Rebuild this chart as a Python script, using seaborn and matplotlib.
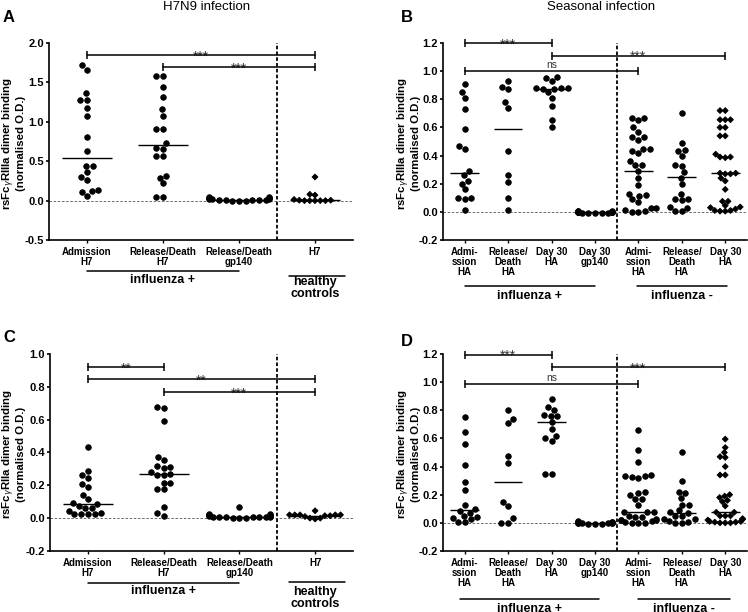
import numpy as np
import pandas as pd
import matplotlib
matplotlib.use("Agg")
import matplotlib.pyplot as plt
import seaborn as sns
from matplotlib.markers import MarkerStyle

# ---------------- data ----------------
H7_LABELS = ["Admission\nH7", "Release/Death\nH7", "Release/Death\ngp140", "H7"]
HA_LABELS = ["Admi-\nssion\nHA", "Release/\nDeath\nHA", "Day 30\nHA", "Day 30\ngp140",
             "Admi-\nssion\nHA", "Release/\nDeath\nHA", "Day 30\nHA"]

# kinds: c = black circle, s = grey square, t = open triangle, d = black diamond
# panel A - H7N9, rsFcgRIIIa
A_VALUES = [
    [1.72, 1.66, 1.36, 1.28, 1.28, 1.17, 1.08, 0.81, 0.63, 0.44, 0.44, 0.36, 0.30, 0.26, 0.14, 0.12, 0.11, 0.06],
    [1.58, 1.58, 1.44, 1.32, 1.16, 1.08, 0.91, 0.91, 0.73, 0.67, 0.66, 0.57, 0.56, 0.31, 0.29, 0.22, 0.05, 0.05],
    [0.03, 0.02, 0.01, 0.01, 0.00, 0.00, 0.01, 0.02, 0.04, 0.04, 0.03, 0.01, 0.00, 0.01, 0.02, 0.03],
    [0.07, 0.30, 0.08, 0.005, 0.0, 0.0, 0.0, 0.0, 0.0, 0.005, 0.015],
]
A_KINDS = ["c" * 18, "c" * 18, "c" * 16, "d" * 11]
A_MEDIANS = [0.54, 0.70, 0.01, 0.005]
A_BRACKETS = [(0, 3, 1.85, "***"), (1, 3, 1.69, "***")]

# panel B - seasonal, rsFcgRIIIa
B_VALUES = [
    [0.91, 0.85, 0.81, 0.73, 0.59, 0.47, 0.45, 0.29, 0.26, 0.22, 0.20, 0.16, 0.10, 0.09, 0.10, 0.01],
    [0.93, 0.87, 0.885, 0.78, 0.74, 0.435, 0.26, 0.21, 0.10, 0.01],
    [0.95, 0.955, 0.93, 0.88, 0.88, 0.875, 0.87, 0.88, 0.85, 0.81, 0.75, 0.655, 0.605],
    [0.0, -0.005, 0.0, 0.005, -0.005, 0.0, 0.0, -0.005, 0.005, 0.0, -0.005, 0.0, 0.005, 0.0, -0.005, 0.0],
    [0.67, 0.65, 0.665, 0.60, 0.57, 0.53, 0.51, 0.53, 0.45, 0.43, 0.42, 0.45, 0.36, 0.33, 0.33, 0.29,
     0.24, 0.19, 0.13, 0.12, 0.115, 0.09, 0.07, 0.03, 0.005, 0.0, 0.0, 0.01, 0.03],
    [0.70, 0.49, 0.44, 0.435, 0.40, 0.33, 0.325, 0.28, 0.24, 0.195, 0.13, 0.09, 0.085, 0.09, 0.035, 0.03, 0.005, 0.005],
    [0.72, 0.72, 0.655, 0.655, 0.655, 0.60, 0.60, 0.54, 0.54, 0.41, 0.39, 0.385, 0.39, 0.275, 0.27,
     0.27, 0.275, 0.24, 0.22, 0.16, 0.075, 0.075, 0.045, 0.03, 0.01, 0.005, 0.005, 0.01, 0.02, 0.035],
]
B_KINDS = ["ssttctctcccscccs", "csccctcscs", "scccccctscttc", "ct" * 8, "d" * 29, "d" * 18, "d" * 30]
B_MEDIANS = [0.275, 0.59, 0.87, 0.0, 0.29, 0.245, 0.275]
B_BRACKETS = [(0, 2, 1.2, "***"), (2, 6, 1.11, "***"), (0, 4, 1.0, "ns")]

# panel C - H7N9, rsFcgRIIa
C_VALUES = [
    [0.435, 0.29, 0.245, 0.265, 0.205, 0.19, 0.14, 0.115, 0.09, 0.085, 0.075, 0.06, 0.06, 0.045,
     0.025, 0.025, 0.025, 0.025, 0.03],
    [0.675, 0.67, 0.59, 0.375, 0.355, 0.32, 0.31, 0.305, 0.28, 0.27, 0.265, 0.26, 0.215, 0.215,
     0.175, 0.18, 0.07, 0.03, 0.015],
    [0.07, 0.025, 0.02, 0.015, 0.01, 0.005, 0.0, 0.0, 0.005, 0.01, 0.0, 0.005, 0.01, 0.015, 0.02, 0.02, 0.025, 0.005],
    [0.02, 0.02, 0.02, 0.015, 0.0, -0.005, 0.0, 0.01, 0.015, 0.02, 0.02, 0.045],
]
C_KINDS = ["c" * 19, "c" * 19, "c" * 18, "d" * 12]
C_MEDIANS = [0.085, 0.27, 0.01, 0.015]
C_BRACKETS = [(0, 1, 0.92, "**"), (0, 3, 0.845, "**"), (1, 3, 0.77, "***")]

# panel D - seasonal, rsFcgRIIa
D_VALUES = [
    [0.75, 0.645, 0.56, 0.41, 0.29, 0.23, 0.13, 0.10, 0.085, 0.07, 0.04, 0.025, 0.05, 0.035, 0.005, 0.005],
    [0.80, 0.71, 0.74, 0.475, 0.425, 0.15, 0.12, 0.033, 0.0, 0.0],
    [0.88, 0.80, 0.82, 0.76, 0.76, 0.765, 0.715, 0.665, 0.60, 0.585, 0.62, 0.35, 0.35],
    [0.005, 0.0, -0.005, 0.0, 0.005, -0.005, 0.0, 0.0, 0.005, -0.005, 0.0, 0.005, 0.0, 0.01],
    [0.66, 0.52, 0.43, 0.34, 0.33, 0.32, 0.325, 0.335, 0.215, 0.22, 0.195, 0.17, 0.17, 0.13, 0.08,
     0.08, 0.075, 0.05, 0.04, 0.045, 0.02, 0.02, 0.025, 0.02, 0.0, 0.0, 0.005, 0.0, 0.01],
    [0.50, 0.30, 0.21, 0.22, 0.175, 0.13, 0.13, 0.09, 0.075, 0.07, 0.05, 0.05, 0.025, 0.03, 0.005, 0.0, 0.0, 0.01],
    [0.595, 0.535, 0.50, 0.47, 0.465, 0.40, 0.34, 0.34, 0.20, 0.19, 0.18, 0.16, 0.15, 0.12, 0.075,
     0.075, 0.05, 0.05, 0.05, 0.03, 0.02, 0.01, 0.005, 0.0, 0.0, 0.0, 0.005, 0.01, 0.025],
]
D_KINDS = ["ststcctcctccccss", "cscccctcss", "scctscccttctc", "c" * 14, "d" * 29, "d" * 18, "d" * 29]
D_MEDIANS = [0.09, 0.29, 0.715, 0.0, 0.075, 0.072, 0.075]
D_BRACKETS = [(0, 2, 1.195, "***"), (2, 6, 1.108, "***"), (0, 4, 0.99, "ns")]

# ---------------- style ----------------
sns.set_theme(style="ticks")
plt.rcParams["font.family"] = ["Liberation Sans", "DejaVu Sans"]
plt.rcParams.update({
    "text.color": "black", "axes.labelcolor": "black", "xtick.color": "black",
    "ytick.color": "black", "axes.edgecolor": "black", "axes.unicode_minus": False,
})

# marker, face, edge, size (pt); all markers share one edge width
MARKERS = {
    "c": ("o", "black", "black", 3.5),
    "s": ("s", "#9a9a9a", "#9a9a9a", 3.1),
    "t": ("^", "white", "black", 3.7),
    "d": ("D", "black", "black", 3.0),
}
EDGE_W = 0.6


def marker_path(m):
    ms = MarkerStyle(m)
    return ms.get_path().transformed(ms.get_transform())


def draw_column(ax, pos, values, kinds, n_cats):
    order = [str(i) for i in range(n_cats)]
    df = pd.DataFrame({"cat": order[pos], "val": values})
    sns.swarmplot(data=df, x="cat", y="val", order=order, color="black",
                  size=4, linewidth=EDGE_W, warn_thresh=1, ax=ax)
    coll = ax.collections[-1]
    specs = [MARKERS[k] for k in kinds]
    coll.set_paths([marker_path(s[0]) for s in specs])
    coll.set_sizes(np.array([s[3] for s in specs]) ** 2)
    coll.set_facecolors([s[1] for s in specs])
    coll.set_edgecolors([s[2] for s in specs])
    coll.set_linewidth(EDGE_W)
    coll.set_zorder(3)


def bracket(ax, x0, x1, y, text):
    ax.plot([x0, x1], [y, y], color="black", lw=1.1, marker="|", ms=6, mew=1.1,
            clip_on=False, zorder=5)
    if text == "ns":
        ax.annotate(text, ((x0 + x1) / 2, y), xytext=(0, 0.5), textcoords="offset points",
                    ha="center", va="bottom", fontsize=7.5, color="#333333")
    else:
        ax.annotate(text, ((x0 + x1) / 2, y), xytext=(0, -4), textcoords="offset points",
                    ha="center", va="baseline", fontsize=10, color="#333333")


def draw_panel(ax, values, kinds, medians, labels, ylim, yticks, brackets, split,
               groups, ylabel, label_x):
    n = len(labels)
    for pos, (vals, kd) in enumerate(zip(values, kinds)):
        draw_column(ax, pos, vals, kd, n)
    for pos, med in enumerate(medians):
        ax.hlines(med, pos - 0.33, pos + 0.33, colors="black", lw=1.0, zorder=4)

    ax.axhline(0, color="#555555", lw=0.6, ls=(0, (3, 2)), zorder=1)
    ax.axvline(split, color="black", lw=1.3, ls=(0, (2, 1.2)), zorder=1)

    ax.set_xlim(-0.5, n - 0.5)
    ax.set_ylim(*ylim)
    ax.set_yticks(yticks)
    ax.set_yticklabels([f"{t:.1f}" for t in yticks], fontweight="bold", fontsize=8)
    ax.set_xticks(range(n))
    ax.set_xticklabels(labels, fontweight="bold", fontsize=7, linespacing=1.0)
    ax.set_xlabel("")
    ax.tick_params(axis="y", length=2.5, width=1.2, pad=1)
    ax.tick_params(axis="x", length=2.5, width=1.0, pad=2.5)
    sns.despine(ax=ax)
    for side in ("left", "bottom"):
        ax.spines[side].set_linewidth(1.2)

    ax.set_ylabel(ylabel, fontweight="bold", fontsize=8.2, linespacing=0.9)
    ax.yaxis.set_label_coords(label_x, 0.49)

    for x0, x1, y, text in brackets:
        bracket(ax, x0, x1, y, text)

    trans = ax.get_xaxis_transform()
    for x0, x1, yl, text, xt, yt in groups:
        ax.plot([x0, x1], [yl, yl], transform=trans, color="black", lw=1.1, clip_on=False)
        ax.text(xt, yt, text, transform=trans, ha="center", va="center",
                fontsize=9, fontweight="bold", linespacing=1.0, clip_on=False)


fig = plt.figure(figsize=(7.48, 6.12), dpi=100)
ax_a = fig.add_axes([0.0655, 0.6078, 0.4064, 0.3219])
ax_b = fig.add_axes([0.5922, 0.6078, 0.4064, 0.3219])
ax_c = fig.add_axes([0.0668, 0.0997, 0.4051, 0.3219])
ax_d = fig.add_axes([0.5922, 0.0997, 0.4064, 0.3219])

LABEL_IIIA = "rsFc$_{\\gamma}$RIIIa dimer binding\n(normalised O.D.)"
LABEL_IIA = "rsFc$_{\\gamma}$RIIa dimer binding\n(normalised O.D.)"

draw_panel(ax_a, A_VALUES, A_KINDS, A_MEDIANS, H7_LABELS, (-0.5, 2.0),
           [-0.5, 0.0, 0.5, 1.0, 1.5, 2.0], A_BRACKETS, 2.5,
           [(0, 2, -0.157, "influenza +", 1, -0.203),
            (2.66, 3.39, -0.183, "healthy\ncontrols", 3, -0.244)],
           LABEL_IIIA, -0.076)
draw_panel(ax_b, B_VALUES, B_KINDS, B_MEDIANS, HA_LABELS, (-0.2, 1.2),
           [-0.2, 0.0, 0.2, 0.4, 0.6, 0.8, 1.0, 1.2], B_BRACKETS, 3.5,
           [(0, 3, -0.234, "influenza +", 1.5, -0.284),
            (3.96, 6.04, -0.234, "influenza -", 5, -0.284)],
           LABEL_IIIA, -0.072)
draw_panel(ax_c, C_VALUES, C_KINDS, C_MEDIANS, H7_LABELS, (-0.2, 1.0),
           [-0.2, 0.0, 0.2, 0.4, 0.6, 0.8, 1.0], C_BRACKETS, 2.5,
           [(0, 2, -0.162, "influenza +", 1, -0.203),
            (2.66, 3.39, -0.157, "healthy\ncontrols", 3, -0.239)],
           LABEL_IIA, -0.078)
draw_panel(ax_d, D_VALUES, D_KINDS, D_MEDIANS, HA_LABELS, (-0.2, 1.2),
           [-0.2, 0.0, 0.2, 0.4, 0.6, 0.8, 1.0, 1.2], D_BRACKETS, 3.5,
           [(-0.1, 3.1, -0.244, "influenza +", 1.5, -0.295),
            (4.0, 6.1, -0.244, "influenza -", 5.05, -0.295)],
           LABEL_IIA, -0.072)

fig.text(207 / 748, 1 - 7 / 612, "H7N9 infection", ha="center", va="center", fontsize=9.5)
fig.text(601 / 748, 1 - 7 / 612, "Seasonal infection", ha="center", va="center", fontsize=9.5)
for letter, x, y in [("A", 3, 17), ("B", 401, 17), ("C", 3, 337), ("D", 401, 342)]:
    fig.text(x / 748, 1 - y / 612, letter, ha="left", va="center", fontsize=12, fontweight="bold")

fig.savefig("out.png", dpi=100)
